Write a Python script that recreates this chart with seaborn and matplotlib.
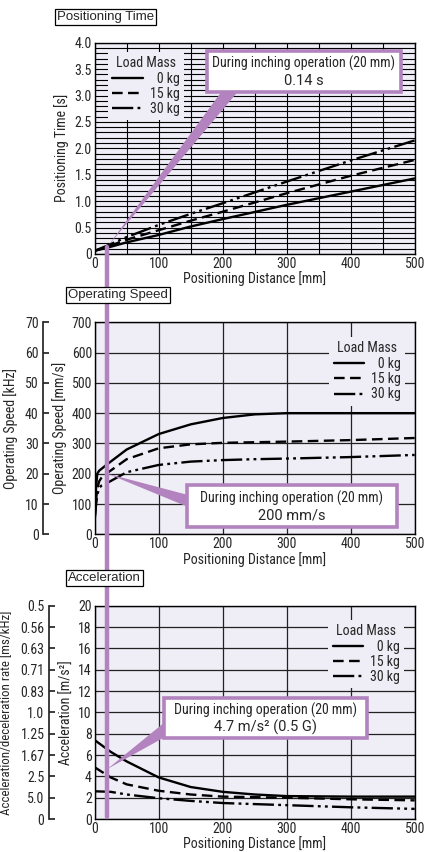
import pandas as pd
import seaborn as sns
import matplotlib.pyplot as plt
from matplotlib.patches import Rectangle, Polygon
from matplotlib.lines import Line2D
from matplotlib.ticker import MultipleLocator

# ---- data ----
load_labels = ["\u20070 kg", "15 kg", "30 kg"]

time_dist = [0, 20, 50, 100, 150, 200, 300, 400, 500]
time_0kg = [0.06, 0.12, 0.22, 0.36, 0.52, 0.66, 0.93, 1.18, 1.43]
time_15kg = [0.06, 0.14, 0.27, 0.45, 0.63, 0.80, 1.15, 1.48, 1.78]
time_30kg = [0.06, 0.16, 0.32, 0.55, 0.76, 0.96, 1.37, 1.77, 2.15]
time_ticks = [0, 0.5, 1.0, 1.5, 2.0, 2.5, 3.0, 3.5, 4.0]
time_ticklabels = ["0", "0.5", "1.0", "1.5", "2.0", "2.5", "3.0", "3.5", "4.0"]

speed_dist = [0, 2, 4, 7, 10, 20, 50, 100, 150, 200, 250, 300, 400, 500]
speed_0kg = [50, 150, 200, 210, 215, 232, 280, 331, 363, 384, 396, 400, 400, 400]
speed_15kg = [50, 110, 150, 175, 185, 203, 248, 284, 297, 302, 304, 306, 311, 318]
speed_30kg = [50, 95, 130, 152, 160, 170, 205, 229, 240, 245, 248, 250, 255, 262]

accel_dist = [0, 25, 50, 100, 150, 200, 250, 300, 400, 500]
accel_0kg = [7.4, 6.3, 5.4, 3.9, 3.0, 2.55, 2.3, 2.15, 2.1, 2.1]
accel_15kg = [4.85, 3.9, 3.25, 2.65, 2.3, 2.1, 2.05, 2.0, 1.85, 1.75]
accel_30kg = [2.6, 2.55, 2.3, 1.95, 1.7, 1.5, 1.4, 1.3, 1.1, 0.95]
accel_ticks = [0, 2, 4, 6, 8, 10, 12, 14, 16, 18, 20]
rate_ticklabels = ["0", "5.0", "2.5", "1.67", "1.25", "1.0", "0.83", "0.71", "0.63", "0.56", "0.5"]

dist_ticks = [0, 100, 200, 300, 400, 500]

# inching operation callouts
inch_dist = 20
inch_time = 0.14
inch_speed = 200
inch_accel = 4.7

# ---- style ----
sns.set_theme(style="white")
plt.rcParams['font.family'] = ['Roboto Condensed', 'Liberation Sans Narrow',
                               'Liberation Sans', 'DejaVu Sans']
FS = 10
plt.rcParams.update({'font.size': FS, 'axes.labelsize': FS, 'xtick.labelsize': FS,
                     'ytick.labelsize': FS, 'legend.fontsize': FS})
BG = '#efedf5'
PURPLE = '#b283be'
line_styles = ['-', (0, (4.5, 2.3)), (0, (9, 1.8, 1.2, 1.8, 1.2, 1.8))]
wide_font = ['Liberation Sans', 'DejaVu Sans']
value_font = ['Roboto', 'Liberation Sans', 'DejaVu Sans']

fig = plt.figure(figsize=(4.25, 8.52), dpi=100)
ax_t = fig.add_axes([0.2228, 0.7019, 0.7529, 0.2480])
ax_s = fig.add_axes([0.2228, 0.3729, 0.7529, 0.2488])
ax_a = fig.add_axes([0.2228, 0.0387, 0.7529, 0.2504])


def draw_curves(ax, dist, series):
    for vals, lab, ls in zip(series, load_labels, line_styles):
        sns.lineplot(x=dist, y=vals, ax=ax, color='black', lw=1.7,
                     linestyle=ls, label=lab)


def base_axes(ax, ymax):
    ax.set_facecolor(BG)
    ax.set_axisbelow(True)
    ax.set_xlim(0, 500)
    ax.set_ylim(0, ymax)
    ax.set_xticks(dist_ticks)
    ax.set_xlabel("Positioning Distance [mm]", labelpad=0.5, fontsize=FS)
    ax.tick_params(length=0, pad=2, labelsize=FS)
    for sp in ax.spines.values():
        sp.set_color('black')
        sp.set_linewidth(1.0)


def legend(ax, loc, anchor):
    leg = ax.legend(title="Load Mass", loc=loc, bbox_to_anchor=anchor,
                    borderaxespad=0, frameon=True, fancybox=False,
                    facecolor=BG, edgecolor='none', framealpha=1,
                    handlelength=2.2, handletextpad=0.5, labelspacing=0.1,
                    borderpad=0.3, fontsize=FS, title_fontsize=FS)
    leg.set_zorder(4)


def callout(ax, box, tip, base, line1, line2):
    x0, y0, w, h = box
    ax.add_patch(Polygon([tip, base[0], base[1]], closed=True, transform=ax.transAxes,
                         fc=PURPLE, ec='none', zorder=5, clip_on=False))
    ax.add_patch(Rectangle((x0, y0), w, h, transform=ax.transAxes, fc='white',
                           ec=PURPLE, lw=2.6, zorder=6, clip_on=False))
    xc = x0 + w / 2
    ax.text(xc, y0 + h * 0.69, line1, transform=ax.transAxes, ha='center',
            va='center', fontsize=FS, zorder=7)
    ax.text(xc, y0 + h * 0.27, line2, transform=ax.transAxes, ha='center',
            va='center', fontsize=10.5, family=value_font, zorder=7)


# positioning time
base_axes(ax_t, 4.0)
draw_curves(ax_t, time_dist, [time_0kg, time_15kg, time_30kg])
ax_t.set_yticks(time_ticks, labels=time_ticklabels)
ax_t.yaxis.set_minor_locator(MultipleLocator(0.1))
ax_t.xaxis.set_minor_locator(MultipleLocator(50))
ax_t.grid(which='both', color='black', lw=0.8)
ax_t.set_ylabel("Positioning Time [s]", labelpad=4, fontsize=FS)
legend(ax_t, 'upper left', (0.042, 0.956))
callout(ax_t, (0.35, 0.768, 0.607, 0.194),
        (inch_dist / 500, inch_time / 4.0), [(0.402, 0.78), (0.454, 0.78)],
        "During inching operation (20 mm)", f"{inch_time} s")

# operating speed
base_axes(ax_s, 700)
draw_curves(ax_s, speed_dist, [speed_0kg, speed_15kg, speed_30kg])
ax_s.set_yticks(range(0, 701, 100))
ax_s.grid(which='major', color='#222222', lw=0.9)
ax_s.set_ylabel("Operating Speed [mm/s]", labelpad=3, fontsize=FS)
legend(ax_s, 'upper right', (0.97, 0.93))
callout(ax_s, (0.288, 0.034, 0.657, 0.199),
        (inch_dist / 500, inch_speed / 700), [(0.29, 0.186), (0.29, 0.13)],
        "During inching operation (20 mm)", f"{inch_speed} mm/s")
sec_s = ax_s.secondary_yaxis(-0.1625, functions=(lambda v: v / 10, lambda v: v * 10))
sec_s.set_yticks(range(0, 71, 10))
sec_s.tick_params(direction='in', length=4, pad=3, labelsize=FS)
sec_s.set_ylabel("Operating Speed [kHz]", labelpad=5, fontsize=FS)

# acceleration
base_axes(ax_a, 20)
draw_curves(ax_a, accel_dist, [accel_0kg, accel_15kg, accel_30kg])
ax_a.set_yticks(accel_ticks)
ax_a.grid(which='major', color='#222222', lw=0.9)
ax_a.set_ylabel("Acceleration [m/s\u00b2]", labelpad=3, fontsize=FS)
legend(ax_a, 'upper right', (0.967, 0.933))
callout(ax_a, (0.2166, 0.381, 0.633, 0.185),
        (inch_dist / 500, inch_accel / 20), [(0.22, 0.455), (0.22, 0.385)],
        "During inching operation (20 mm)", f"{inch_accel} m/s\u00b2 (0.5 G)")
sec_a = ax_a.secondary_yaxis(-0.144)
sec_a.set_yticks(accel_ticks, labels=rate_ticklabels)
sec_a.tick_params(direction='in', length=4, pad=3, labelsize=FS)
sec_a.set_ylabel("Acceleration/deceleration rate [ms/kHz]", labelpad=5, fontsize=9.3)

# vertical inching marker through all three panels
xf = 0.2228 + inch_dist / 500 * 0.7529
fig.add_artist(Line2D([xf, xf], [0.7019 + inch_time / 4.0 * 0.248, 0.041],
                      transform=fig.transFigure, color=PURPLE, lw=3.2, zorder=2))

# section titles
for txt, x, y in [("Positioning Time", 57, 17), ("Operating Speed", 68, 295),
                  ("Acceleration", 68, 578)]:
    fig.text(x / 425, 1 - y / 852, txt, ha='left', va='center', fontsize=9.5,
             family=wide_font, zorder=3,
             bbox=dict(boxstyle='square,pad=0.15', fc='white', ec='black', lw=0.9))

fig.savefig("out.png", dpi=100, facecolor='white')
